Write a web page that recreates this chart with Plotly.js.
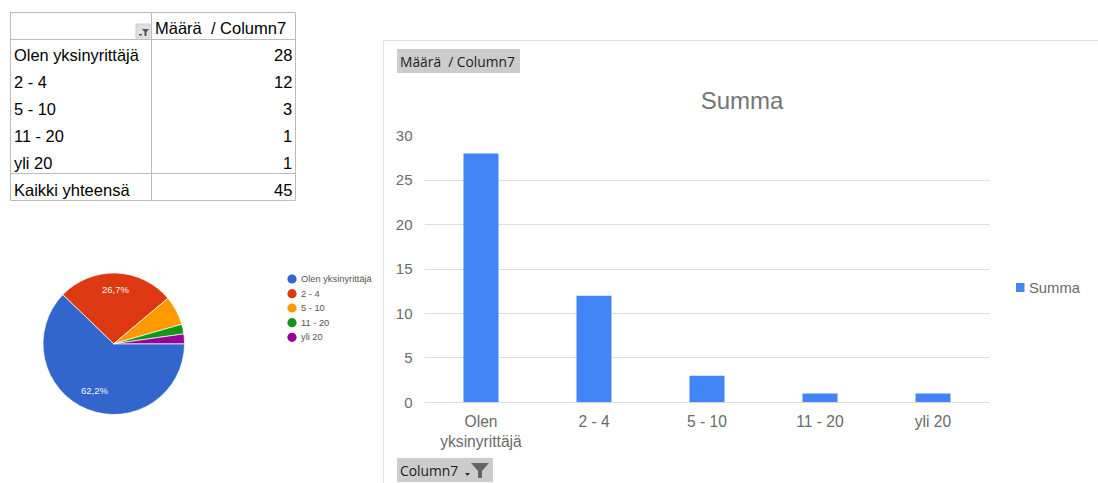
<!DOCTYPE html>
<html>
<head>
<meta charset="utf-8">
<script src="https://cdn.plot.ly/plotly-3.0.1.min.js"></script>
<style>html,body{margin:0;padding:0;background:#fff;overflow:hidden}#chart{width:1098px;height:483px}</style>
</head>
<body>
<div id="chart"></div>
<script>
// Respondent counts by company size
const categories = ['Olen yksinyrittäjä', '2 - 4', '5 - 10', '11 - 20', 'yli 20'];
const counts = [28, 12, 3, 1, 1];
const total = 45;
const barTickLabels = ['Olen<br>yksinyrittäjä', '2 - 4', '5 - 10', '11 - 20', 'yli 20'];
const yTicks = [0, 5, 10, 15, 20, 25, 30];
const pieColors = ['#3366cc', '#dc3912', '#ff9900', '#109618', '#990099'];
const tableHeader = 'Määrä  / Column7';
const totalLabel = 'Kaikki yhteensä';
const seriesName = 'Summa';

const W = 1098, H = 483;
const px = x => x / W;
const py = y => 1 - y / H;
const sans = '"Liberation Sans", Arial, sans-serif';
const TABLE = '#b9bcbf';

// Helpers working in page pixels, for the pivot table, legends and field buttons
const rect = (x0, y0, x1, y1, fill, line) => ({
  type: 'rect', xref: 'paper', yref: 'paper', layer: 'below',
  x0: px(x0), x1: px(x1), y0: py(y0), y1: py(y1),
  fillcolor: fill || 'rgba(0,0,0,0)',
  line: line ? {color: line, width: 1} : {width: 0}
});
const dot = (cx, cy, r, fill) => ({
  type: 'circle', xref: 'paper', yref: 'paper',
  x0: px(cx - r), x1: px(cx + r), y0: py(cy - r), y1: py(cy + r),
  fillcolor: fill, line: {width: 0}
});
const rule = (x0, y0, x1, y1, color) => ({
  type: 'line', xref: 'paper', yref: 'paper', layer: 'below',
  x0: px(x0), x1: px(x1), y0: py(y0), y1: py(y1),
  line: {color: color, width: 1}
});
const poly = (pts, fill) => ({
  type: 'path', xref: 'paper', yref: 'paper', fillcolor: fill, line: {width: 0},
  path: 'M' + pts.map(p => px(p[0]) + ',' + py(p[1])).join(' L') + ' Z'
});
const label = (x, y, text, anchor, size, color, family) => ({
  xref: 'paper', yref: 'paper', x: px(x), y: py(y), text: text, showarrow: false,
  xanchor: anchor, yanchor: 'middle', borderpad: 0, align: anchor,
  font: {family: family || sans, size: size, color: color}
});
const percent = v => (v / total * 100).toFixed(1).replace('.', ',') + '%';

const rowY = [55, 82, 109, 136, 163];
const legendY = [279, 293.7, 308, 322.7, 337.3];
const annotations = [
  label(154, 28.5, tableHeader, 'left', 16.5, '#000'),
  label(13, 190, totalLabel, 'left', 16.5, '#000'),
  label(293, 190, String(total), 'right', 16.5, '#000'),
  label(399, 61.5, tableHeader, 'left', 13.8, '#1c1c1c', '"Open Sans", sans-serif'),
  label(399, 470, 'Column7', 'left', 13.8, '#1c1c1c', '"Open Sans", sans-serif'),
  // slice labels
  label(94.5, 390, percent(counts[0]), 'center', 9.5, '#f4f4f4'),
  label(115, 289.5, percent(counts[1]), 'center', 9.5, '#f4f4f4'),
  // series key of the column chart
  label(1027.5, 288, seriesName, 'left', 14.8, '#6a6a6a')
];
categories.forEach((c, i) => {
  annotations.push(label(13, rowY[i], c, 'left', 16.4, '#000'));
  annotations.push(label(293, rowY[i], String(counts[i]), 'right', 16.5, '#000'));
  annotations.push(label(300, legendY[i], c, 'left', 9.3, '#555'));
});

const shapes = [
  // pivot table frame
  rect(10.5, 12.5, 295.5, 200.5, null, TABLE),
  rule(151.5, 12, 151.5, 201, TABLE),
  rule(10, 39.5, 296, 39.5, TABLE),
  rule(10, 173.5, 296, 173.5, TABLE),
  // filter button in the table header
  rect(136, 24, 150, 38, '#dfe0e1', '#c9cbcd'),
  poly([[142, 29], [149, 29], [146.5, 32], [146.5, 36], [144.5, 36], [144.5, 32]], '#555'),
  rect(139, 34, 142, 35.5, '#555'),
  // chart frame
  rule(383.5, 40, 383.5, 483, '#e2e2e2'),
  rule(383, 40.5, 1098, 40.5, '#e2e2e2'),
  // field buttons
  rect(397, 49, 520, 73, '#cccccc'),
  rect(397, 458, 493, 482, '#cccccc'),
  poly([[471, 463], [489, 463], [482, 471], [482, 478], [478, 478], [478, 471]], '#666'),
  poly([[465, 473], [470, 473], [467.5, 476]], '#333'),
  // series key of the column chart
  rect(1016, 283, 1024.5, 292, '#4285f4')
];
pieColors.forEach((color, i) => shapes.push(dot(292, legendY[i], 4.6, color)));

const traces = [
  {
    type: 'bar', name: seriesName, x: categories, y: counts,
    marker: {color: '#4285f4'}, width: 0.31,
    showlegend: false, hoverinfo: 'x+y'
  },
  {
    type: 'pie', labels: categories, values: counts, sort: false,
    direction: 'clockwise', rotation: 90,
    domain: {x: [px(43), px(184.5)], y: [py(414.5), py(273)]},
    marker: {colors: pieColors, line: {color: '#fff', width: 0.7}},
    textinfo: 'none', showlegend: false, hoverinfo: 'label+value'
  }
];

const layout = {
  width: W, height: H,
  margin: {l: 0, r: 0, t: 0, b: 0},
  showlegend: false,
  paper_bgcolor: '#fff', plot_bgcolor: '#fff',
  font: {family: sans},
  title: {
    text: seriesName, x: 742 / W, xanchor: 'center', y: py(101), yanchor: 'middle',
    font: {family: sans, size: 24, color: '#757575'}
  },
  xaxis: {
    domain: [px(424.5), px(989.5)], type: 'category', categoryorder: 'array', categoryarray: categories,
    tickmode: 'array', tickvals: categories, ticktext: barTickLabels,
    ticks: '', showgrid: false, zeroline: false, showline: false, automargin: false,
    ticklabelstandoff: 8,
    tickfont: {family: sans, size: 15.6, color: '#6a6a6a'}
  },
  yaxis: {
    domain: [py(402.3), py(135.8)], range: [0, 30], tickmode: 'array', tickvals: yTicks,
    showgrid: true, gridcolor: '#dedede', gridwidth: 1, zeroline: true, zerolinecolor: '#dedede',
    showline: false, ticks: '', ticklabelstandoff: 11, automargin: false,
    tickfont: {family: sans, size: 15, color: '#6a6a6a'}
  },
  shapes: shapes,
  annotations: annotations
};

Plotly.newPlot('chart', traces, layout, {displayModeBar: false});
</script>
</body>
</html>
